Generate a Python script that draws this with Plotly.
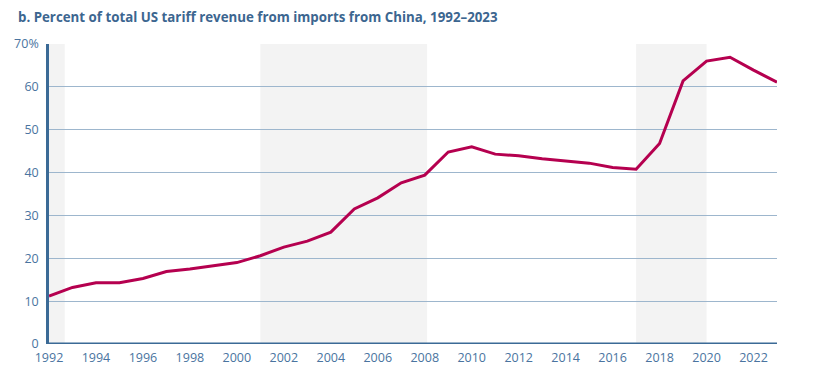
import plotly.graph_objects as go

years = list(range(1992, 2024))
share = [11.2, 13.2, 14.3, 14.3, 15.3, 16.9, 17.5, 18.3, 19.0, 20.6,
         22.6, 24.0, 26.1, 31.5, 34.1, 37.6, 39.4, 44.8, 46.0, 44.3,
         43.9, 43.2, 42.7, 42.2, 41.2, 40.8, 46.8, 61.4, 66.0, 66.9,
         63.9, 61.1]
shade_starts = [1992, 2001, 2017]
shade_ends = [1992.67, 2008.1, 2020]
y_ticks = [0, 10, 20, 30, 40, 50, 60, 70]
y_labels = ["0", "10", "20", "30", "40", "50", "60", "70%"]
x_ticks = list(range(1992, 2024, 2))

title = "b. Percent of total US tariff revenue from imports from China, 1992–2023"

axis_col = "#3B6A96"
grid_col = "#9DB6CD"
text_col = "#4A74A0"
font_family = "'Open Sans', Lato, sans-serif"

fig = go.Figure()

shapes = []
for s, e in zip(shade_starts, shade_ends):
    shapes.append(dict(type="rect", xref="x", yref="y", x0=s, x1=e, y0=0, y1=70,
                       fillcolor="#F3F3F3", line=dict(width=0), layer="below"))

fig.add_trace(go.Scatter(x=years, y=share, mode="lines",
                         line=dict(color="#B5004F", width=3),
                         hoverinfo="x+y", showlegend=False))

fig.update_layout(
    width=813, height=379,
    margin=dict(l=41, r=44, t=36, b=43, autoexpand=False),
    paper_bgcolor="white", plot_bgcolor="rgba(0,0,0,0)",
    shapes=shapes,
    font=dict(family=font_family, color=text_col, size=12.5),
    title=dict(text="<b>" + title + "</b>", x=10 / 813, xanchor="left",
               y=1 - 9 / 379, yanchor="middle",
               font=dict(family=font_family, size=13.3, color="#3C6690")),
    xaxis=dict(range=[1992, 2023], tickvals=x_ticks, ticktext=[str(t) for t in x_ticks],
               showgrid=False, zeroline=False, showline=False, automargin=False,
               ticks="", ticklabelstandoff=4,
               tickfont=dict(size=12.5, color=text_col), fixedrange=True),
    yaxis=dict(range=[0, 70], tickvals=y_ticks, ticktext=y_labels, automargin=False,
               showgrid=True, gridcolor=grid_col, gridwidth=1,
               zeroline=False, showline=True, linecolor=axis_col, linewidth=2.5,
               ticks="", ticklabelstandoff=5,
               tickfont=dict(size=12.5, color=text_col), fixedrange=True),
)

fig.add_shape(type="line", xref="x", yref="y", x0=1992, x1=2023, y0=0, y1=0,
              line=dict(color=axis_col, width=3), layer="above")

fig.write_html("out.html")
